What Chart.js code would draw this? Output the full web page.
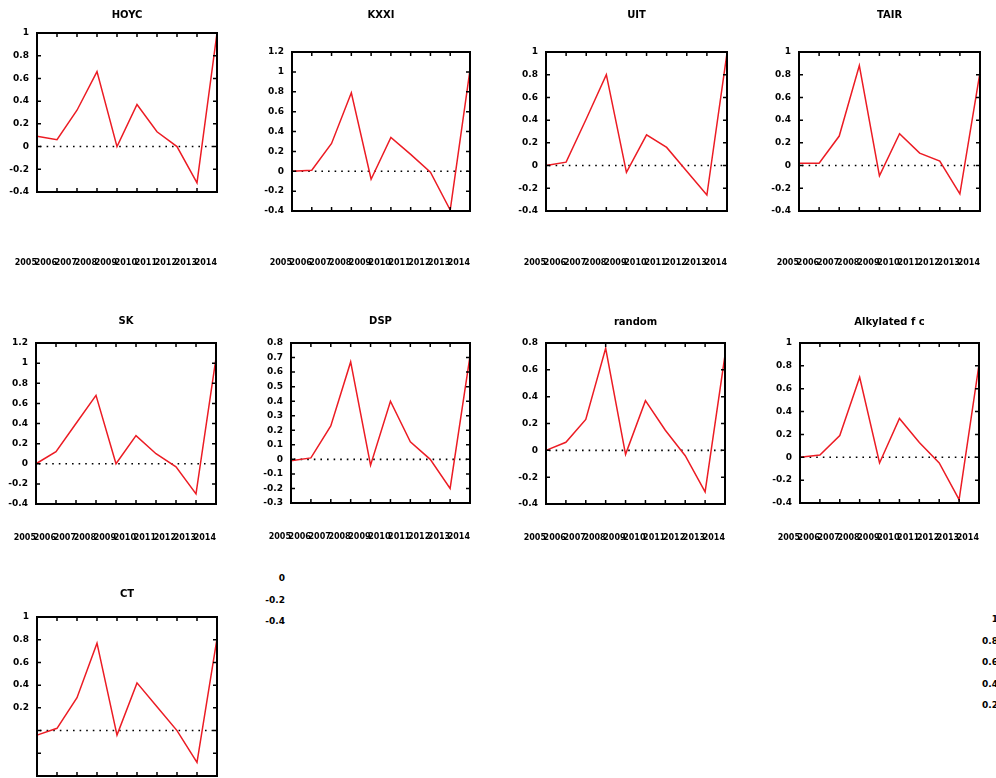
<!DOCTYPE html>
<html>
<head>
<meta charset="utf-8">
<script src="https://cdn.jsdelivr.net/npm/chart.js@4.4.1/dist/chart.umd.min.js"></script>
<style>
  html, body { margin: 0; padding: 0; background: #fff; }
  body { width: 996px; height: 778px; overflow: hidden; position: relative; }
  canvas { position: absolute; }
  .stray { position: absolute; width: 30px; text-align: right; font: bold 9px "DejaVu Sans", sans-serif; line-height: 10px; color: #000; }
</style>
</head>
<body>
<script>
// x categories shared by every panel
const periods = ["2005", "2006", "2007", "2008", "2009", "2010", "2011", "2012", "2013", "2014"]

const titles = ["HOYC", "KXXI", "UIT", "TAIR", "SK", "DSP", "random", "Alkylated f c", "CT"]

// one series per panel
const hoyc = [0.09, 0.06, 0.32, 0.66, 0.00, 0.37, 0.13, 0.00, -0.32, 1.00]
const kxxi = [0.00, 0.01, 0.28, 0.79, -0.08, 0.34, 0.17, -0.01, -0.39, 1.02]
const uit = [0.00, 0.03, 0.41, 0.80, -0.06, 0.27, 0.16, -0.05, -0.26, 0.99]
const tair = [0.02, 0.02, 0.26, 0.88, -0.09, 0.28, 0.11, 0.04, -0.25, 0.82]
const sk = [0.00, 0.12, 0.40, 0.68, 0.00, 0.28, 0.10, -0.03, -0.30, 1.05]
const dsp = [-0.01, 0.01, 0.23, 0.67, -0.04, 0.40, 0.12, 0.00, -0.20, 0.71]
const rnd = [0.00, 0.06, 0.23, 0.76, -0.03, 0.37, 0.15, -0.04, -0.31, 0.71]
const alkyl = [0.00, 0.02, 0.19, 0.70, -0.05, 0.34, 0.13, -0.05, -0.37, 0.81]
const ct = [-0.04, 0.02, 0.29, 0.77, -0.04, 0.42, 0.21, 0.00, -0.28, 0.81]

const series = [hoyc, kxxi, uit, tair, sk, dsp, rnd, alkyl, ct]

// y ranges: [min, max, step]
const yRanges = [
  [-0.4, 1, 0.2], [-0.4, 1.2, 0.2], [-0.4, 1, 0.2], [-0.4, 1, 0.2],
  [-0.4, 1.2, 0.2], [-0.3, 0.8, 0.1], [-0.4, 0.8, 0.2], [-0.4, 1, 0.2],
  [-0.4, 1, 0.2],
]

// tick labels that ended up away from their axes
const strayLeft = ["0", "-0.2", "-0.4"]
const strayRight = ["1", "0.8", "0.6", "0.4", "0.2"]

// page placement of each plot box
const boxes = [
  { x: 37, y: 33, w: 180, h: 159, titleY: 15, barY: 263 },
  { x: 292, y: 52, w: 178, h: 159, titleY: 15, barY: 263 },
  { x: 546, y: 52, w: 181, h: 159, titleY: 15, barY: 263 },
  { x: 799, y: 52, w: 181, h: 159, titleY: 15, barY: 263 },
  { x: 36, y: 343, w: 180, h: 161, titleY: 321, barY: 538 },
  { x: 291, y: 343, w: 179, h: 160, titleY: 321, barY: 537 },
  { x: 546, y: 343, w: 179, h: 161, titleY: 322, barY: 538 },
  { x: 800, y: 343, w: 179, h: 160, titleY: 322, barY: 538 },
  { x: 37, y: 617, w: 180, h: 159, titleY: 594, barY: 848 },
]

const FONT = "'DejaVu Sans', sans-serif"
const YW = 34
const RP = 3

const fmt = (v) => String(Math.round(v * 10) / 10)

// frame with inward ticks, dotted zero line and the panel title
const frame = {
  id: "frame",
  beforeDatasetsDraw(chart) {
    const { ctx, chartArea: a, scales } = chart
    const y0 = scales.y.getPixelForValue(0)
    ctx.save()
    ctx.strokeStyle = "#000"
    ctx.lineWidth = 1.6
    ctx.setLineDash([1.6, 5])
    ctx.beginPath()
    ctx.moveTo(a.left + 3, y0)
    ctx.lineTo(a.right, y0)
    ctx.stroke()
    ctx.restore()
  },
  afterDraw(chart, args, opts) {
    const { ctx, chartArea: a, scales } = chart
    ctx.save()
    ctx.strokeStyle = "#000"
    ctx.lineWidth = 1.5
    ctx.beginPath()
    scales.x.ticks.forEach((t, i) => {
      const px = scales.x.getPixelForTick(i)
      ctx.moveTo(px, a.top)
      ctx.lineTo(px, a.top + 4)
      ctx.moveTo(px, a.bottom)
      ctx.lineTo(px, a.bottom - 4)
    })
    scales.y.ticks.forEach((t, i) => {
      const py = scales.y.getPixelForTick(i)
      ctx.moveTo(a.left, py)
      ctx.lineTo(a.left + 4, py)
      ctx.moveTo(a.right, py)
      ctx.lineTo(a.right - 4, py)
    })
    ctx.stroke()
    ctx.lineWidth = 2
    ctx.strokeRect(a.left, a.top, a.right - a.left, a.bottom - a.top)
    ctx.fillStyle = "#000"
    ctx.font = "bold 10px " + FONT
    ctx.textAlign = "center"
    ctx.textBaseline = "middle"
    ctx.fillText(opts.title, (a.left + a.right) / 2, opts.titleY)
    ctx.restore()
  },
}

function createPanel(i) {
  const b = boxes[i]
  const [yMin, yMax, yStep] = yRanges[i]
  const top = b.titleY - 10
  const tp = b.y - top
  // the date row sits well below the plot; tickLength moves it down
  const drop = b.barY - 5 - (b.y + b.h)
  const xh = drop + 14

  const canvas = document.createElement("canvas")
  canvas.width = YW + b.w + RP
  canvas.height = tp + b.h + xh
  canvas.style.left = b.x - YW + "px"
  canvas.style.top = top + "px"
  document.body.appendChild(canvas)

  new Chart(canvas, {
    type: "line",
    data: {
      labels: periods,
      datasets: [
        {
          data: series[i],
          borderColor: "rgb(236, 28, 36)",
          borderWidth: 1.5,
          pointRadius: 0,
          tension: 0,
          fill: false,
        },
      ],
    },
    options: {
      responsive: false,
      animation: false,
      devicePixelRatio: 1,
      layout: { padding: { top: tp, right: RP, left: 0, bottom: 0 } },
      plugins: {
        legend: { display: false },
        tooltip: { enabled: false },
        frame: { title: titles[i], titleY: 10 },
      },
      scales: {
        x: {
          type: "category",
          offset: false,
          grid: { display: false, drawTicks: true, tickLength: drop },
          border: { display: false },
          ticks: {
            autoSkip: false,
            maxRotation: 0,
            minRotation: 0,
            align: "end",
            padding: 0,
            color: "#000",
            font: { family: FONT, size: 8, weight: "bold" },
          },
          afterFit(s) {
            s.height = xh
          },
        },
        y: {
          min: yMin,
          max: yMax,
          grid: { display: false, drawTicks: false },
          border: { display: false },
          ticks: {
            stepSize: yStep,
            autoSkip: false,
            maxTicksLimit: 30,
            padding: 8,
            color: "#000",
            font: { family: FONT, size: 9, weight: "bold" },
            // the last panel lost its lower labels
            callback: (v) => (i === 8 && v <= 0 ? "" : fmt(v)),
          },
          afterFit(s) {
            s.width = YW
          },
        },
      },
    },
    plugins: [frame],
  })
}

series.forEach((s, i) => createPanel(i))

function addStray(labels, right, firstY, gap) {
  labels.forEach((t, k) => {
    const el = document.createElement("div")
    el.className = "stray"
    el.textContent = t
    el.style.left = right - 30 + "px"
    el.style.top = firstY + k * gap - 5 + "px"
    document.body.appendChild(el)
  })
}

addStray(strayLeft, 285, 578, 21.5)
addStray(strayRight, 998, 619, 21.5)
</script>
</body>
</html>
